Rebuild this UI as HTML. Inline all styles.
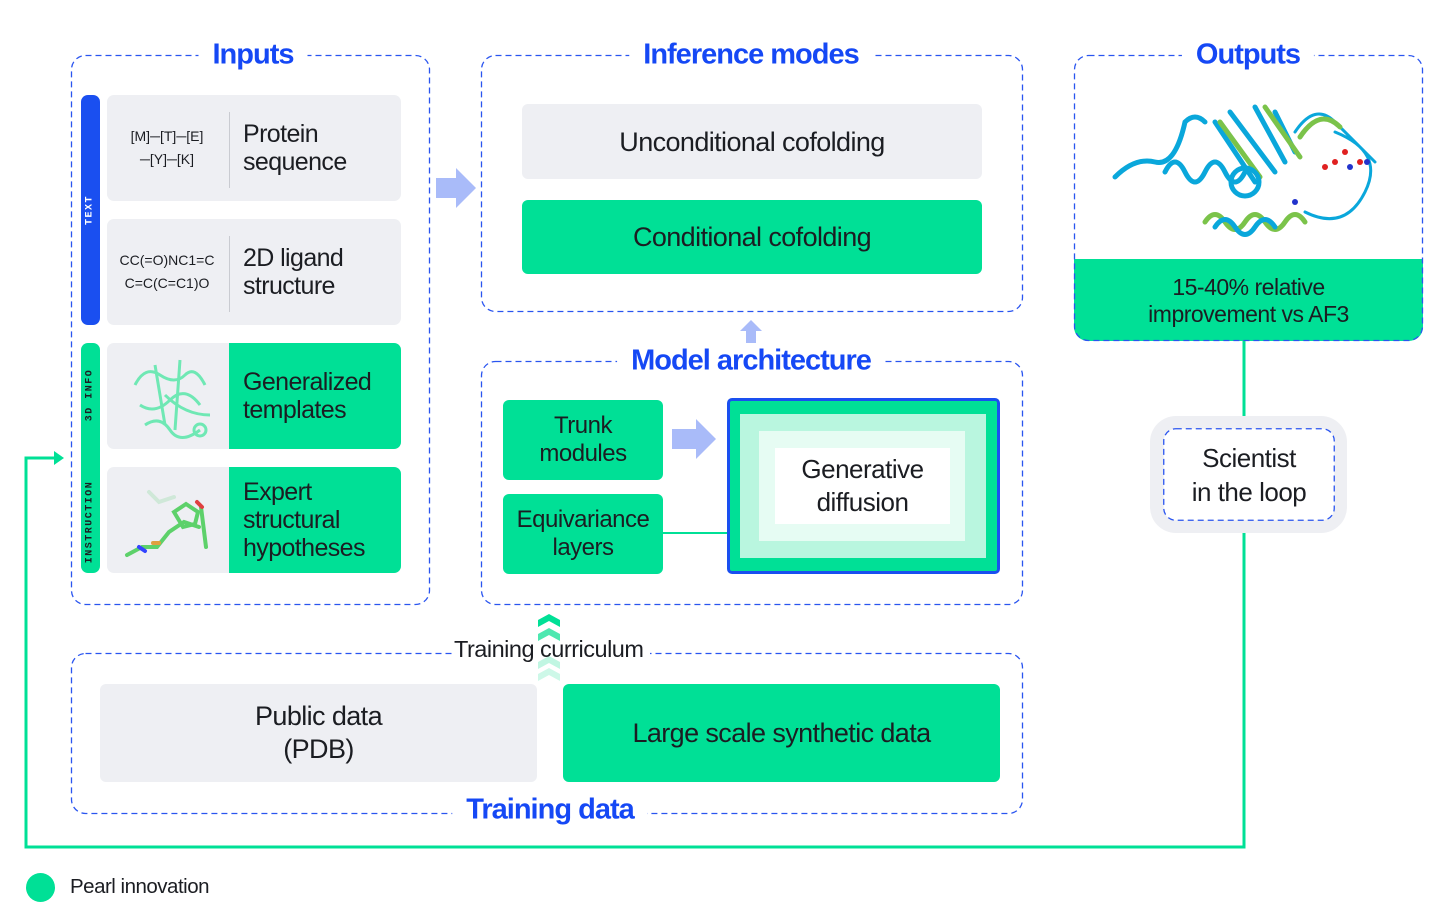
<!DOCTYPE html>
<html><head><meta charset="utf-8"><style>
*{margin:0;padding:0;box-sizing:border-box}
body{width:1456px;height:924px;background:#fff;position:relative;overflow:hidden;font-family:"Liberation Sans",sans-serif;color:#1b1d22}
.a{position:absolute}
.title{position:absolute;background:#fff;color:#1548f5;font-weight:bold;font-size:29px;letter-spacing:-1px;padding:0 14px;transform:translate(-50%,-50%);white-space:nowrap}
.box{position:absolute;border-radius:6px;display:flex;align-items:center;justify-content:center;text-align:center}
.g{background:#00e096}.gr{background:#eeeff3}
.lab{font-size:24px;line-height:28px;letter-spacing:-0.5px}
.big{font-size:27px;letter-spacing:-0.6px}
.card{position:absolute;border-radius:7px;background:#eeeff3;overflow:hidden}
.card .r{position:absolute;left:122px;top:0;right:0;bottom:0;display:flex;align-items:center;padding-left:14px;font-size:25px;line-height:28px;letter-spacing:-0.6px}
.card .code{position:absolute;left:0;width:120px;top:0;bottom:0;display:flex;align-items:center;justify-content:center;text-align:center;font-size:14px;line-height:23px}
.vbar{position:absolute;width:19px;border-radius:7px}
.vt{position:absolute;font-family:"Liberation Mono",monospace;font-weight:bold;font-size:10px;letter-spacing:1.5px;transform:translate(-50%,-50%) rotate(-90deg);white-space:nowrap}
</style></head><body>

<!-- Outputs green bottom (under dashes) -->
<div class="a" style="left:1074px;top:259px;width:349px;height:82px;background:#00e096;border-radius:0 0 14px 14px"></div>

<!-- dashed boxes -->
<svg class="a" style="left:0;top:0" width="1456" height="924"><g fill="none" stroke="#2a55f0" stroke-width="1.3" stroke-dasharray="6 4">
<rect x="71.5" y="55.5" width="358" height="549" rx="14"/>
<rect x="481.5" y="55.5" width="541" height="256" rx="14"/>
<rect x="481.5" y="361.5" width="541" height="243" rx="14"/>
<rect x="71.5" y="653.5" width="951" height="160" rx="14"/>
<rect x="1074.5" y="55.5" width="348" height="285" rx="14"/>
</g></svg>

<!-- Inputs -->
<div class="title" style="left:253px;top:55px">Inputs</div>
<div class="vbar" style="left:81px;top:95px;height:230px;background:#1a4ff0"></div>
<div class="vt" style="left:90px;top:210px;color:#fff">TEXT</div>
<div class="vbar" style="left:81px;top:343px;height:230px;background:#00e096"></div>
<div class="vt" style="left:90px;top:395px;color:#1b1d22">3D INFO</div>
<div class="vt" style="left:90px;top:522px;color:#1b1d22">INSTRUCTION</div>

<div class="card" style="left:107px;top:95px;width:294px;height:106px">
 <div class="code">[M]─[T]─[E]<br>─[Y]─[K]</div>
 <div class="a" style="left:122px;top:17px;width:1px;height:76px;background:#c9cbd1"></div>
 <div class="r">Protein<br>sequence</div></div>
<div class="card" style="left:107px;top:219px;width:294px;height:106px">
 <div class="code">CC(=O)NC1=C<br>C=C(C=C1)O</div>
 <div class="a" style="left:122px;top:17px;width:1px;height:76px;background:#c9cbd1"></div>
 <div class="r">2D ligand<br>structure</div></div>
<div class="card" style="left:107px;top:343px;width:294px;height:106px">
 <svg class="a" style="left:18px;top:2px" width="90" height="102"><g fill="none" stroke="#6fe8b4" stroke-width="3"><path d="M10 40 q10-20 25-10 t25 0 t20 10"/><path d="M15 60 q15 10 30-5 t30 5"/><path d="M20 80 q15-10 25 5 t30 0"/><path d="M30 20 l10 60 M55 15 l-5 70 M40 50 q20 20 45 20"/><circle cx="75" cy="85" r="6"/></g></svg>
 <div class="r g">Generalized<br>templates</div></div>
<div class="card" style="left:107px;top:467px;width:294px;height:106px">
 <svg class="a" style="left:12px;top:10px" width="100" height="90"><g fill="none" stroke-width="4" stroke-linecap="round"><path d="M8 78 l15-8 l15 0 l12-15 l15-10 l15 5" stroke="#5dd16a"/><path d="M55 35 l12-8 l12 8 l-3 12 l-12 3z" stroke="#5dd16a"/><path d="M82 30 l5 40" stroke="#5dd16a"/><path d="M30 15 l10 10 l15-5" stroke="#cfe8d8"/><path d="M20 70 l6 4" stroke="#3344ff"/><path d="M34 66 l6 0" stroke="#e0a040"/><path d="M78 25 l5 5" stroke="#e04040"/></g></svg>
 <div class="r g">Expert<br>structural<br>hypotheses</div></div>

<svg class="a" style="left:434px;top:166px" width="44" height="44"><path d="M2 12 h20 v-10 l20 20 l-20 20 v-10 h-20z" fill="#a9bbf9"/></svg>

<!-- Inference modes -->
<div class="title" style="left:751px;top:55px">Inference modes</div>
<div class="box gr lab big" style="left:522px;top:104px;width:460px;height:75px">Unconditional cofolding</div>
<div class="box g lab big" style="left:522px;top:200px;width:460px;height:74px">Conditional cofolding</div>

<svg class="a" style="left:739px;top:319px" width="24" height="25"><path d="M12 1 l11 11 h-6 v12 h-10 v-12 h-6z" fill="#a9bbf9"/></svg>

<!-- Model architecture -->
<div class="title" style="left:751px;top:361px">Model architecture</div>
<div class="box g lab" style="left:503px;top:400px;width:160px;height:80px">Trunk<br>modules</div>
<div class="box g lab" style="left:503px;top:494px;width:160px;height:80px">Equivariance<br>layers</div>
<svg class="a" style="left:670px;top:417px" width="50" height="45"><path d="M2 12 h24 v-10 l20 20 l-20 20 v-10 h-24z" fill="#a9bbf9"/></svg>
<div class="a" style="left:662px;top:532px;width:66px;height:2px;background:#00e096"></div>
<div class="a" style="left:727px;top:398px;width:273px;height:176px;background:#00e096;border:3px solid #1a4ff0;border-radius:5px"></div>
<div class="a" style="left:740px;top:414px;width:246px;height:144px;background:#b9f6df"></div>
<div class="a" style="left:759px;top:431px;width:206px;height:110px;background:#e6fcf3"></div>
<div class="box lab" style="left:775px;top:448px;width:175px;height:76px;background:#fff;border-radius:0;font-size:26px;line-height:33px">Generative<br>diffusion</div>

<!-- Training data -->
<div class="a" style="left:452px;top:638px;width:198px;height:26px;background:#fff"></div>
<svg class="a" style="left:538px;top:612px" width="24" height="70"><path d="M0 8 l11-6 l11 6 v7 l-11-6 l-11 6z" fill="#00e096"/><path d="M0 22 l11-6 l11 6 v7 l-11-6 l-11 6z" fill="#4de8b0"/><path d="M0 50 l11-6 l11 6 v7 l-11-6 l-11 6z" fill="#a5f2d6" opacity=".7"/><path d="M0 62 l11-6 l11 6 v7 l-11-6 l-11 6z" fill="#cdf8e8"/></svg>
<div class="a" style="left:454px;top:636px;font-size:23.5px;letter-spacing:-0.5px;white-space:nowrap">Training curriculum</div>
<div class="title" style="left:550px;top:810px">Training data</div>
<div class="box gr lab big" style="left:100px;top:684px;width:437px;height:98px;line-height:33px">Public data<br>(PDB)</div>
<div class="box g lab big" style="left:563px;top:684px;width:437px;height:98px">Large scale synthetic data</div>

<!-- Outputs -->
<div class="title" style="left:1248px;top:55px">Outputs</div>
<svg class="a" style="left:1105px;top:92px" width="280" height="160"><g fill="none" stroke-width="5" stroke-linecap="round">
<path d="M10 85 q20-20 40-15 t30-40 q10-10 20 0 M60 80 q10-20 20 0 t20 0 t20 0 t20 0" stroke="#0aa7db"/>
<path d="M110 30 l40 60 M125 20 l45 60 M150 15 l30 55 M170 20 l20 40" stroke="#0aa7db"/>
<path d="M115 30 l40 55 M160 15 l35 50" stroke="#7bc34a"/>
<path d="M100 130 q10-15 20 0 t20 0 t20 0 t20 0 t20 0" stroke="#7bc34a"/>
<path d="M110 135 q10-15 20 0 t20 0 t20 0" stroke="#0aa7db"/>
<path d="M190 40 q20-30 40-10 t40 40 M200 120 q40 20 60-20 t-30-60" stroke="#0aa7db" stroke-width="3"/>
<path d="M195 45 q20-30 40-10" stroke="#7bc34a"/>
<circle cx="140" cy="90" r="14" stroke="#0aa7db"/></g>
<g fill="#e02020"><circle cx="220" cy="75" r="3"/><circle cx="230" cy="70" r="3"/><circle cx="240" cy="60" r="3"/><circle cx="255" cy="70" r="3"/></g>
<g fill="#2233cc"><circle cx="245" cy="75" r="3"/><circle cx="262" cy="70" r="3"/><circle cx="190" cy="110" r="3"/></g></svg>
<div class="a lab" style="left:1074px;top:274px;width:349px;text-align:center;font-size:23px;line-height:27px">15-40% relative<br>improvement vs AF3</div>

<!-- loop line -->
<svg class="a" style="left:0;top:0" width="1456" height="924"><g fill="none" stroke="#00e096" stroke-width="3">
<path d="M1244 341 V416 M1244 532 V847 H26 V458 H56"/></g>
<path d="M54 451 l10 7 l-10 7z" fill="#00e096"/></svg>

<div class="a" style="left:1150px;top:416px;width:197px;height:117px;background:#eeeff3;border-radius:26px"></div>
<svg class="a" style="left:1163px;top:428px" width="172" height="93"><rect x="0.75" y="0.75" width="170.5" height="91.5" rx="12" fill="#fff" stroke="#2a55f0" stroke-width="1.3" stroke-dasharray="6 4"/></svg>
<div class="box lab" style="left:1163px;top:428px;width:172px;height:93px;font-size:26px;line-height:34px">Scientist<br>in the loop</div>

<!-- legend -->
<div class="a" style="left:26px;top:873px;width:29px;height:29px;border-radius:50%;background:#00e096"></div>
<div class="a" style="left:70px;top:875px;font-size:20.5px;letter-spacing:-0.5px">Pearl innovation</div>
</body></html>
